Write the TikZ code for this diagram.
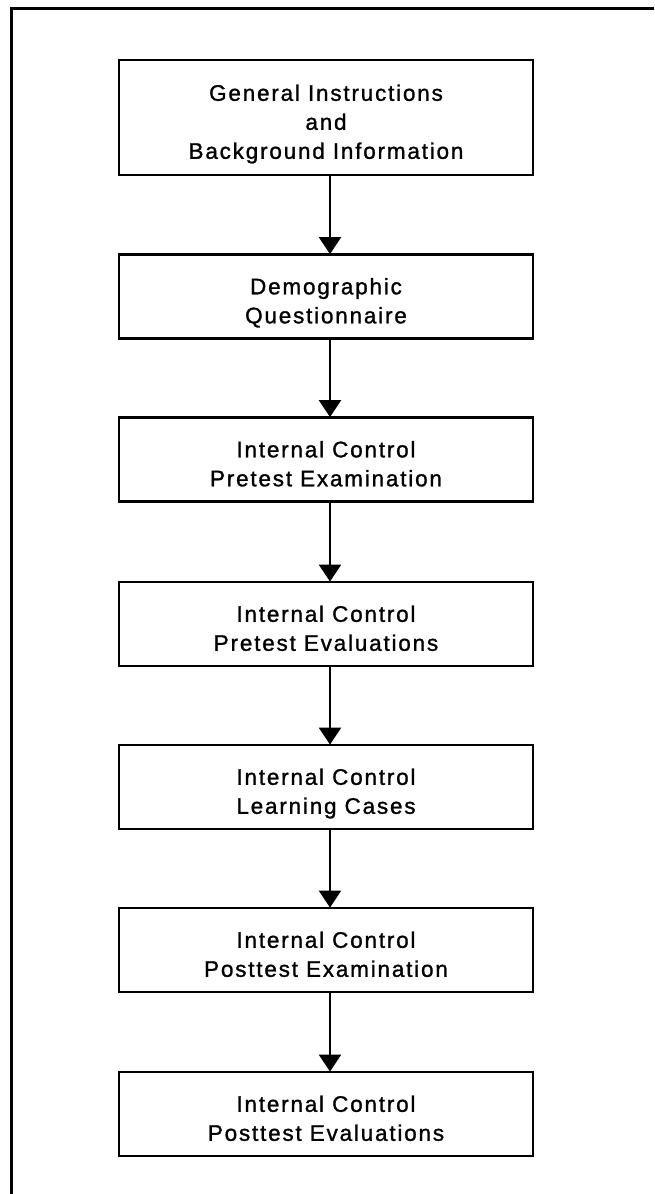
\documentclass[tikz,border=0pt]{standalone}
\usepackage{fontspec}
\setmainfont{Liberation Sans}[LetterSpace=8,FakeBold=1.2]
\usetikzlibrary{arrows.meta}
% box text: centred lines, set a little below the middle of the box
\newcommand\boxlines[1]{\raisebox{-6.5pt}[\height][\depth]{\begin{tabular}{@{}c@{}}#1\end{tabular}}}
\begin{document}
\begin{tikzpicture}[x=1pt,y=-1pt,
  stepbox/.style={draw, line width=2.7pt, minimum width=414pt, minimum height=84pt,
    inner sep=0pt, font=\fontsize{22.5}{29}\selectfont},
  flow/.style={line width=2.2pt, -{Triangle[width=22pt,length=17pt]}, shorten >=-1pt}]
\useasboundingbox (0,0) rectangle (654,1194);
% outer frame (top and left sides)
\draw[line width=3pt] (11,1194) -- (11,8.5) -- (654,8.5);
% stages
\node[stepbox, minimum height=115pt] (gen) at (326,117.5) {\boxlines{General Instructions\\and\\Background Information}};
\node[stepbox] (demo) at (326,296.5) {\boxlines{Demographic\\Questionnaire}};
\node[stepbox] (preexam) at (326,459.5) {\boxlines{Internal Control\\Pretest Examination}};
\node[stepbox] (preeval) at (326,624) {\boxlines{Internal Control\\Pretest Evaluations}};
\node[stepbox] (learn) at (326,787) {\boxlines{Internal Control\\Learning Cases}};
\node[stepbox] (postexam) at (326,950) {\boxlines{Internal Control\\Posttest Examination}};
\node[stepbox] (posteval) at (326,1114) {\boxlines{Internal Control\\Posttest Evaluations}};
% connectors
\foreach \a/\b in {gen/demo, demo/preexam, preexam/preeval, preeval/learn, learn/postexam, postexam/posteval}
  \draw[flow] ([xshift=4pt]\a.south) -- ([xshift=4pt]\b.north);
\end{tikzpicture}
\end{document}
